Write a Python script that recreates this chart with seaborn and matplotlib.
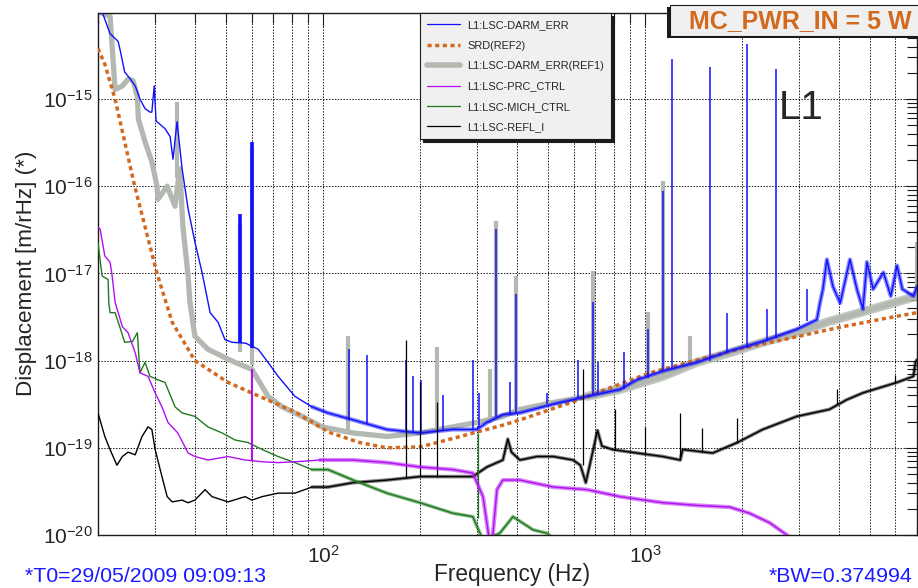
import numpy as np
import matplotlib
matplotlib.use('Agg')
import matplotlib.pyplot as plt
import matplotlib.ticker as mticker
from matplotlib.lines import Line2D
from matplotlib.patches import Rectangle
import seaborn as sns

# Valores: frequencia (Hz) e log10 do deslocamento [m/rHz]
darm_hz = [20, 20.6, 21.8, 23.1, 23.5, 24.2, 25.2, 26.1, 27.0, 28.0, 29.0, 29.4, 29.9, 30.3,
           30.5, 32.3, 33.5, 34.2, 35.2, 36.5, 38.1, 40.0, 42.1, 44.6, 47.2, 49.6, 52.2, 57.5,
           62.9, 67.5, 72.5, 81.8, 92.4, 103.6, 124, 158, 200, 253, 300, 323, 362, 409, 519,
           661, 837, 944, 1137, 1450, 1833, 2321, 2962, 3421, 3496, 3572, 3674, 3837, 4041,
           4333, 4554, 4754, 4894, 5115, 5505, 5803, 6070, 6303, 6824, 7000]
darm_lg = [-13.95, -14.0, -14.25, -14.34, -14.46, -14.69, -14.77, -14.85, -15.0, -15.11, -15.15,
           -15.15, -14.85, -15.25, -15.26, -15.34, -15.43, -15.69, -15.26, -15.80, -16.26, -16.64,
           -16.99, -17.45, -17.56, -17.76, -17.79, -17.80, -17.87, -18.02, -18.18, -18.41, -18.53,
           -18.60, -18.68, -18.79, -18.83, -18.79, -18.79, -18.71, -18.62, -18.60, -18.50, -18.41,
           -18.33, -18.22, -18.12, -18.02, -17.89, -17.78, -17.64, -17.53, -17.34, -17.18, -16.84,
           -17.15, -17.34, -16.84, -17.18, -17.41, -16.87, -17.18, -16.99, -17.26, -16.91, -17.18,
           -17.26, -17.15]
darm_pk_hz = [55.2, 60.1, 120.4, 137, 181, 190, 201, 236, 292, 305, 345, 380, 397, 497, 620,
              688, 714, 860, 1025, 1137, 1213, 1592, 1796, 2074, 2392, 2551, 3188]
darm_pk_top = [-16.32, -15.49, -17.87, -17.93, -17.99, -18.18, -18.22, -18.39, -17.99, -18.37,
               -16.49, -18.25, -17.24, -18.37, -17.99, -17.33, -18.02, -17.90, -17.64, -16.05,
               -14.54, -14.63, -17.45, -14.37, -17.41, -14.66, -17.18]
darm_pk_base = [-17.80, -17.85, -18.68, -18.72, -18.80, -18.82, -18.83, -18.80, -18.79, -18.77,
                -18.65, -18.62, -18.60, -18.50, -18.43, -18.40, -18.38, -18.33, -18.20, -18.12,
                -18.10, -18.00, -17.90, -17.85, -17.77, -17.74, -17.55]

srd_hz = [20, 21, 22.6, 26, 30.5, 34, 40, 50.7, 60, 82, 104, 130, 158, 200, 243, 300, 362, 409,
          600, 1037, 1500, 2000, 2686, 4000, 5500, 7000]
srd_lg = [-14.42, -14.6, -15.0, -16.0, -17.0, -17.56, -18.0, -18.25, -18.37, -18.59, -18.82,
          -18.94, -19.0, -18.99, -18.91, -18.82, -18.74, -18.68, -18.47, -18.14, -17.98, -17.86,
          -17.76, -17.62, -17.52, -17.45]

ref1_hz = [20, 21.8, 22.6, 23.8, 24.8, 25.7, 26.5, 26.7, 28.0, 29.4, 30.5, 30.7, 32.8, 34.7,
           35.9, 36.7, 38.1, 38.6, 40.0, 43.9, 48.6, 53.3, 60.1, 67.5, 74.6, 86.1, 99.3, 124,
           158, 200, 253, 300, 362, 409, 519, 661, 837, 1137, 1450, 1833, 2321, 2962, 3738,
           4754, 7000]
ref1_lg = [-14.0, -14.05, -14.89, -14.85, -14.77, -14.79, -14.97, -15.23, -15.49, -15.72, -16.0,
           -16.15, -16.0, -16.23, -15.80, -16.46, -17.03, -17.33, -17.72, -17.87, -17.95, -18.02,
           -18.10, -18.41, -18.53, -18.64, -18.76, -18.83, -18.87, -18.83, -18.76, -18.71, -18.64,
           -18.56, -18.48, -18.41, -18.33, -18.18, -18.02, -17.91, -17.79, -17.68, -17.55, -17.44,
           -17.26]
ref1_pk_hz = [35.2, 55.2, 60.1, 119.6, 226, 330, 345, 397, 688, 1025, 1137, 1382, 7000]
ref1_pk_top = [-15.03, -16.45, -15.55, -17.72, -17.84, -18.10, -16.40, -17.03, -16.97, -17.44,
               -15.94, -17.72, -16.64]
ref1_pk_base = [-15.90, -17.90, -18.05, -18.82, -18.80, -18.71, -18.68, -18.58, -18.39, -18.24,
                -18.18, -18.05, -17.26]

prc_hz = [20, 20.3, 21.0, 21.8, 22.1, 22.6, 23.8, 24.8, 26.1, 27.0, 28.6, 30.1, 31.6, 33.0,
          35.4, 38.1, 40.0, 43.9, 50.7, 57.3, 64.7, 72.5, 81.8, 97.9, 124, 158, 200, 253, 292,
          314, 333, 347, 362, 409, 519, 661, 837, 1137, 1450, 1833, 2112, 2440, 2761, 3030]
prc_lg = [-16.47, -16.49, -16.80, -16.87, -17.01, -17.33, -17.61, -17.68, -17.91, -18.14, -18.18,
          -18.37, -18.53, -18.71, -18.83, -19.06, -19.10, -19.14, -19.10, -19.14, -19.16, -19.17,
          -19.16, -19.14, -19.14, -19.17, -19.22, -19.25, -19.29, -19.56, -20.2, -19.48, -19.37,
          -19.37, -19.45, -19.48, -19.56, -19.63, -19.66, -19.68, -19.75, -19.86, -20.0, -20.17]
prc_pk_hz = [60.1]
prc_pk_top = [-18.10]
prc_pk_base = [-19.14]

mich_hz = [20, 20.6, 21.5, 21.6, 21.8, 22.6, 23.5, 24.2, 25.6, 26.5, 27.0, 28.0, 29.0, 30.7,
           32.3, 34.7, 36.5, 40.0, 43.9, 48.6, 53.3, 58.5, 64.7, 72.5, 81.8, 92.4, 103.6, 124,
           158, 200, 253, 292, 314, 354, 389, 449, 496, 546]
mich_lg = [-16.65, -17.03, -17.07, -17.33, -17.45, -17.45, -17.64, -17.79, -17.78, -17.68, -18.14,
           -18.02, -18.18, -18.22, -18.25, -18.53, -18.60, -18.64, -18.76, -18.83, -18.91, -18.94,
           -19.02, -19.10, -19.17, -19.25, -19.25, -19.37, -19.52, -19.63, -19.75, -19.79, -20.06,
           -19.98, -19.79, -19.94, -19.98, -20.10]
mich_pk_hz = [303]
mich_pk_top = [-18.83]
mich_pk_base = [-19.80]

refl_hz = [20, 21.0, 21.8, 22.9, 23.8, 24.8, 26.1, 27.4, 28.6, 29.4, 30.1, 31.6, 32.8, 34.0,
           36.5, 38.1, 40.0, 43.0, 45.2, 50.7, 57.3, 60.1, 64.7, 72.5, 81.8, 92.4, 103.6, 124,
           158, 200, 253, 292, 323, 362, 375, 385, 409, 462, 519, 598, 630, 655, 688, 712, 735,
           794, 944, 1137, 1287, 1310, 1624, 1935, 2321, 2962, 3738, 4228, 4754, 6070, 6824,
           6921, 7000]
refl_lg = [-18.60, -18.87, -19.02, -19.20, -19.10, -19.05, -19.08, -18.87, -18.76, -18.79, -19.02,
           -19.33, -19.56, -19.62, -19.60, -19.63, -19.60, -19.48, -19.56, -19.62, -19.56, -19.60,
           -19.56, -19.52, -19.52, -19.45, -19.45, -19.40, -19.37, -19.33, -19.33, -19.33, -19.22,
           -19.14, -18.90, -19.05, -19.14, -19.10, -19.10, -19.14, -19.20, -19.40, -19.05, -18.80,
           -18.98, -19.02, -19.06, -19.10, -19.14, -19.02, -19.06, -18.94, -18.79, -18.64, -18.56,
           -18.45, -18.37, -18.25, -18.18, -18.02, -17.99]
refl_pk_hz = [181, 200, 226, 642, 805, 1000, 1287, 1506, 1935, 3963, 5966]
refl_pk_top = [-17.76, -18.25, -18.48, -18.10, -18.56, -18.76, -18.60, -18.77, -18.66, -18.33,
               -18.16]
refl_pk_base = [-19.35, -19.33, -19.33, -19.20, -19.03, -19.06, -19.14, -19.05, -18.94, -18.50,
                -18.26]

legend_labels = ['L1:LSC-DARM_ERR', 'SRD(REF2)', 'L1:LSC-DARM_ERR(REF1)',
                 'L1:LSC-PRC_CTRL', 'L1:LSC-MICH_CTRL', 'L1:LSC-REFL_I']

c_blue = '#1010ff'
c_orange = '#d2691e'
c_gray = '#b3b9b1'
c_mag = '#b010f0'
c_green = '#1f7a1f'
c_black = '#000000'
dots = (0, (1.2, 1.0))

sns.set_theme(style='white')
plt.rcParams['font.family'] = ['Liberation Sans', 'DejaVu Sans']
plt.rcParams['mathtext.fontset'] = 'custom'
plt.rcParams['mathtext.rm'] = 'Liberation Sans'
plt.rcParams['mathtext.it'] = 'Liberation Sans:italic'

fig = plt.figure(figsize=(9.18, 5.88), dpi=100)
ax = fig.add_axes([98 / 918, 1 - 535 / 588, (917 - 98) / 918, (535 - 13) / 588])


def traco(hz, lg, cor, lw, z, fmin=None, lw2=None, a2=0.5, **kw):
    hz = np.array(hz)
    val = 10.0 ** np.array(lg)
    sns.lineplot(x=hz, y=val, ax=ax, color=cor, lw=lw, estimator=None, sort=False, zorder=z, **kw)
    if fmin is not None:
        # o ruido do espectro engrossa a curva nas frequencias altas
        m = hz >= fmin
        sns.lineplot(x=hz[m], y=val[m], ax=ax, color=cor, lw=lw2, alpha=a2, estimator=None,
                     sort=False, zorder=z)


def picos(hz, base, top, cor, lw, z):
    ax.vlines(hz, 10.0 ** np.array(base), 10.0 ** np.array(top), colors=cor, lw=lw, zorder=z)


traco(ref1_hz, ref1_lg, c_gray, 3.8, 2, fmin=600, lw2=6.5, a2=0.8)
picos(ref1_pk_hz, ref1_pk_base, ref1_pk_top, c_gray, 3.0, 2)
traco(srd_hz, srd_lg, c_orange, 2.5, 3, linestyle=dots)
traco(darm_hz, darm_lg, c_blue, 1.0, 4, fmin=90, lw2=3.0, a2=0.5)
picos(darm_pk_hz, darm_pk_base, darm_pk_top, c_blue,
      [2.6 if f < 70 else 1.1 for f in darm_pk_hz], 4)
traco(refl_hz, refl_lg, c_black, 1.0, 4, fmin=90, lw2=2.6, a2=0.5)
picos(refl_pk_hz, refl_pk_base, refl_pk_top, c_black, 0.9, 4)
traco(mich_hz, mich_lg, c_green, 1.0, 4, fmin=90, lw2=2.6, a2=0.5)
picos(mich_pk_hz, mich_pk_base, mich_pk_top, c_green, 0.9, 4)
traco(prc_hz, prc_lg, c_mag, 1.0, 5, fmin=90, lw2=3.0, a2=0.5)
picos(prc_pk_hz, prc_pk_base, prc_pk_top, c_mag, 1.5, 5)

ax.set_xscale('log')
ax.set_yscale('log')
ax.set_xlim(20, 7000)
ax.set_ylim(1e-20, 0.97e-14)
ax.xaxis.set_major_locator(mticker.LogLocator(base=10, numticks=10))
ax.xaxis.set_minor_locator(mticker.LogLocator(base=10, subs=np.arange(2, 10), numticks=30))
ax.xaxis.set_minor_formatter(mticker.NullFormatter())
ax.yaxis.set_major_locator(mticker.FixedLocator([1e-20, 1e-19, 1e-18, 1e-17, 1e-16, 1e-15]))
ax.yaxis.set_major_formatter(mticker.LogFormatterMathtext())
ax.yaxis.set_minor_locator(mticker.LogLocator(base=10, subs=np.arange(2, 10), numticks=30))
ax.yaxis.set_minor_formatter(mticker.NullFormatter())
ax.tick_params(which='both', direction='in', top=True, right=True, color='k', width=0.8)
ax.tick_params(which='major', length=9, labelsize=15, pad=4)
ax.tick_params(which='minor', length=7)
ax.tick_params(axis='x', which='major', pad=7)
ax.set_axisbelow(True)
ax.grid(which='major', axis='both', color='k', lw=0.7, ls=(0, (1.5, 1.5)))
ax.grid(which='minor', axis='x', color='k', lw=0.7, ls=(0, (1.5, 1.5)))
for s in ax.spines.values():
    s.set_color('k')
    s.set_linewidth(1.0)
ax.set_xlabel('')
ax.set_ylabel('')

fig.text(27 / 918, 1 - 273 / 588, 'Displacement [m/rHz] (*)', rotation=90, fontsize=16.2,
         ha='center', va='center')
fig.text(512 / 918, 1 - 574 / 588, 'Frequency (Hz)', fontsize=16.3, ha='center', va='center')
fig.text(25 / 918, 1 - 582 / 588, '*T0=29/05/2009 09:09:13', fontsize=15.3, color='#1a1aff',
         ha='left', va='baseline')
fig.text(769 / 918, 1 - 582 / 588, '*BW=0.374994', fontsize=15.3, color='#1a1aff',
         ha='left', va='baseline')
fig.text(779 / 918, 1 - 108 / 588, 'L1', fontsize=29, ha='left', va='center')

# caixa MC_PWR_IN
fig.patches.append(Rectangle((667 / 918, 1 - 38 / 588), 0.4, 31 / 588, transform=fig.transFigure,
                             facecolor='k', edgecolor='none', zorder=6))
fig.patches.append(Rectangle((670 / 918, 1 - 36 / 588), 0.4, 31 / 588, transform=fig.transFigure,
                             facecolor='#f0f0f0', edgecolor='k', lw=0.8, zorder=7))
fig.text(689 / 918, 1 - 21 / 588, 'MC_PWR_IN = 5 W', fontsize=18, fontweight='bold',
         color=c_orange, ha='left', va='center', zorder=8)

handles = [Line2D([], [], color=c_blue, lw=0.9),
           Line2D([], [], color=c_orange, lw=2.5, ls=dots),
           Line2D([], [], color=c_gray, lw=4),
           Line2D([], [], color=c_mag, lw=0.9),
           Line2D([], [], color=c_green, lw=0.9),
           Line2D([], [], color=c_black, lw=0.9)]
leg = fig.legend(handles, legend_labels, loc='upper left', bbox_to_anchor=(420 / 918, 1 - 13 / 588),
                 frameon=True, fancybox=False, fontsize=7.9, handlelength=3.0, handletextpad=0.65,
                 labelspacing=0.95, borderpad=0.65, borderaxespad=0,
                 shadow={'ox': 2, 'oy': -2, 'facecolor': 'k', 'edgecolor': 'k', 'alpha': 1})
leg.get_frame().set_facecolor('#f0f0f0')
leg.get_frame().set_edgecolor('k')
leg.get_frame().set_linewidth(0.8)

fig.savefig('out.png', dpi=100)
